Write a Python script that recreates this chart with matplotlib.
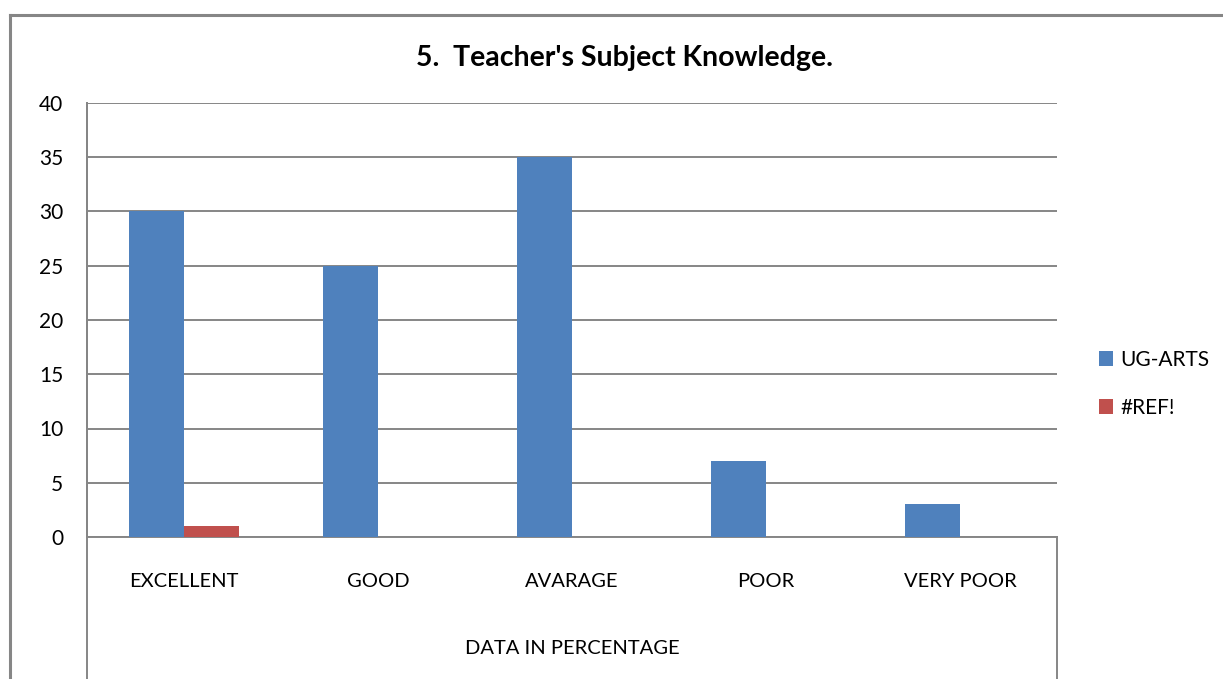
import numpy as np
import matplotlib.pyplot as plt
from matplotlib.lines import Line2D

categories = ['EXCELLENT', 'GOOD', 'AVARAGE', 'POOR', 'VERY POOR']
ug_arts = [30, 25, 35, 7, 3]
ref_err = [1, 0, 0, 0, 0]
series_names = ['UG-ARTS', '#REF!']
y_ticks = [0, 5, 10, 15, 20, 25, 30, 35, 40]

plt.rcParams['font.family'] = ['Lato', 'DejaVu Sans']

W, H = 1223, 679
fig = plt.figure(figsize=(W / 100, H / 100), dpi=100)

# plot area in pixel terms
x0, x1, ytop, ybot = 87, 1057, 103, 537
ax = fig.add_axes([x0 / W, (H - ybot) / H, (x1 - x0) / W, (ybot - ytop) / H])

grid_c = '#868686'
blue = '#4f81bd'
red = '#c0504d'

x = np.arange(len(categories))
bw = 1 / 3.5  # gap width 150%
ax.bar(x - bw / 2, ug_arts, width=bw, color=blue, label=series_names[0], zorder=3)
ax.bar(x + bw / 2, ref_err, width=bw, color=red, label=series_names[1], zorder=3)

ax.set_xlim(-0.5, len(categories) - 0.5)
ax.set_ylim(0, 40)
ax.set_yticks(y_ticks)
ax.set_yticklabels([str(v) for v in y_ticks], fontsize=15)
ax.tick_params(axis='y', length=0, pad=17)
ax.set_xticks(x)
ax.set_xticklabels(categories, fontsize=14.5)
ax.tick_params(axis='x', length=0, pad=26)

ax.yaxis.grid(True, color=grid_c, linewidth=1.4, zorder=0)
for s in ['top', 'right']:
    ax.spines[s].set_visible(False)
for s in ['left', 'bottom']:
    ax.spines[s].set_color(grid_c)
    ax.spines[s].set_linewidth(1.4)

# category axis box lines
def px_line(xs, ys, lw=1.4):
    fig.add_artist(Line2D([v / W for v in xs], [1 - v / H for v in ys],
                          color=grid_c, linewidth=lw))

px_line([x0, x0], [ytop, H])
px_line([x1, x1], [ybot, H])

# outer chart border
px_line([10, W], [15, 15], lw=2.2)
px_line([10, 10], [15, H], lw=2.2)

fig.text((x0 + x1) / 2 / W, 1 - 648 / H, 'DATA IN PERCENTAGE',
         ha='center', va='center', fontsize=14.5)
fig.text(624 / W, 1 - 58 / H, "5.  Teacher's Subject Knowledge.",
         ha='center', va='center', fontsize=20.5, fontweight='bold')

leg = fig.legend(loc='upper left', bbox_to_anchor=(1080 / W, 1 - 331 / H),
                 frameon=False, fontsize=15, handlelength=0.7, handleheight=0.7,
                 handletextpad=0.35, labelspacing=1.35)

fig.savefig('out.png', dpi=100)
